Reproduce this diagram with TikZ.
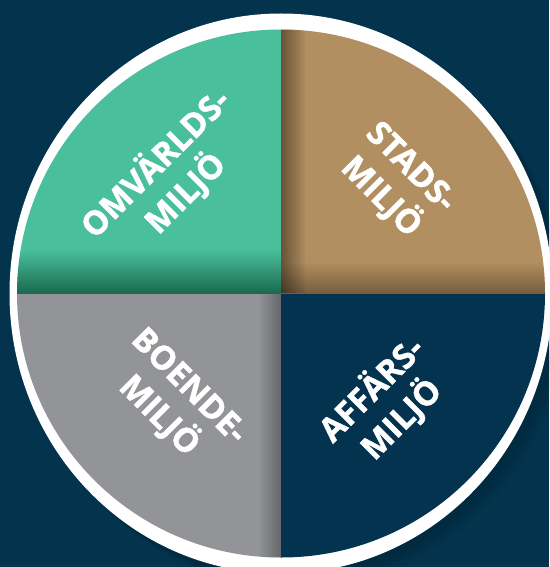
\documentclass[tikz,border=0pt]{standalone}
\usepackage{fontspec}
\setmainfont{Open Sans}[UprightFont=* Bold, UprightFeatures={FakeBold=1.3}]
\usetikzlibrary{fadings}
\definecolor{navybg}{HTML}{03334D}
\definecolor{navyq}{HTML}{03334F}
\definecolor{greenq}{HTML}{4ABF9C}
\definecolor{tanq}{HTML}{B28F60}
\definecolor{greyq}{HTML}{939498}
\definecolor{greendark}{RGB}{0,60,35}
\tikzfading[name=opaqueleft, left color=transparent!0, right color=transparent!100]
\tikzfading[name=opaqueright, left color=transparent!100, right color=transparent!0]
\tikzfading[name=opaquebottom, top color=transparent!100, bottom color=transparent!0]
\tikzset{
  label/.style={text=white, align=center, inner sep=0pt,
    font=\fontsize{33}{42}\selectfont},
}
\begin{document}
\begin{tikzpicture}[x=1pt,y=-1pt]
\useasboundingbox (0,0) rectangle (549,567);
\fill[navybg] (0,0) rectangle (549,567);
% soft drop shadow
\foreach \d/\o in {14/0.04,10/0.05,6/0.06}{
  \fill[black, fill opacity=\o] (281+\d,293.5+\d) ellipse [x radius=271.5, y radius=280];
}
% white ring
\fill[white] (281,293.5) ellipse [x radius=271.5, y radius=280];
\coordinate (c) at (281,293.5);
\begin{scope}
  \clip (c) circle [radius=264];
  \fill[greenq] (0,0) rectangle (c);
  \fill[tanq] (281,0) rectangle (549,293.5);
  \fill[greyq] (0,293.5) rectangle (281,567);
  \fill[navyq] (c) rectangle (549,567);
  % green bottom shadow
  \fill[greendark, fill opacity=0.65, path fading=opaquebottom] (0,250) rectangle (281,293.5);
  % tan shadows
  \fill[black, fill opacity=0.35, path fading=opaquebottom] (281,262) rectangle (549,293.5);
  \fill[black, fill opacity=0.42, path fading=opaqueleft] (281,0) rectangle (306,293.5);
  % grey shadow
  \fill[black, fill opacity=0.3, path fading=opaqueright] (258,293.5) rectangle (281,567);
\end{scope}
\node[label, rotate=45] (omv) at (170,178) {OMVÄRLDS-\\MILJÖ};
\node[label, rotate=-45] (stads) at (395,183) {STADS-\\MILJÖ};
\node[label, rotate=-45] (boende) at (173,402) {BOENDE-\\MILJÖ};
\node[label, rotate=45] (affars) at (386,404) {AFFÄRS-\\MILJÖ};
\end{tikzpicture}
\end{document}
